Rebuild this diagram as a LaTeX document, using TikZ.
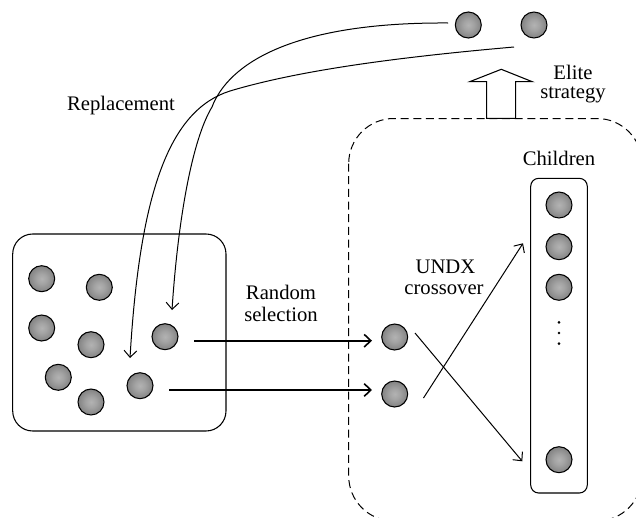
\documentclass[tikz,border=0pt]{standalone}
\usepackage{fontspec}
\setmainfont{Liberation Serif}
\usetikzlibrary{arrows.meta}
\pgfdeclareradialshading{ballshade}{\pgfpoint{0bp}{0bp}}{color(0bp)=(black!30); color(10bp)=(black!36); color(50bp)=(black!70)}
\begin{document}
\begin{tikzpicture}[x=0.75pt,y=-0.75pt,
  ball/.style={circle, draw=black, line width=0.8pt, minimum size=19.5pt, inner sep=0pt, shading=ballshade},
  lbl/.style={font=\fontsize{15.5}{18}\selectfont, inner sep=0pt, anchor=base},
  conn/.style={line width=0.75pt, -{Straight Barb[length=5pt,width=9.5pt]}},
  sel/.style={line width=1.2pt, -{Straight Barb[length=5pt,width=9.5pt]}},
  boxline/.style={line width=0.8pt}]
\useasboundingbox (0,0) rectangle (636,518);

% boxes
\draw[boxline, rounded corners=15pt] (12.7,234) rectangle (226,431);
\draw[line width=0.75pt, dash pattern=on 6pt off 3.5pt, rounded corners=33.75pt] (348.7,118.5) rectangle (642,521);
\draw[boxline, rounded corners=6pt] (530.7,178.3) rectangle (587.3,493);

% elite arrow
\draw[boxline, fill=white] (486.7,118.3) -- (486.7,81.7) -- (469.7,81.7) -- (501.3,69.3) -- (532.3,81.7) -- (515.7,81.7) -- (515.7,118.3) -- cycle;

% balls
\node[ball] (t1) at (468.3,25) {};
\node[ball] (t2) at (534,25) {};
\node[ball] (p1) at (41.7,278.7) {};
\node[ball] (p2) at (99.3,287.3) {};
\node[ball] (p3) at (41.7,328) {};
\node[ball] (p4) at (91,344.7) {};
\node[ball] (p5) at (165,336.7) {};
\node[ball] (p6) at (58.3,377.3) {};
\node[ball] (p7) at (91,402) {};
\node[ball] (p8) at (140,385.7) {};
\node[ball] (m1) at (394.7,337) {};
\node[ball] (m2) at (394.7,394) {};
\node[ball] (c1) at (559,205) {};
\node[ball] (c2) at (559,246.7) {};
\node[ball] (c3) at (559,287.3) {};
\node[ball] (c4) at (559,459.7) {};
\fill (559,322.3) circle (1.1pt) (559,333) circle (1.1pt) (559,343.7) circle (1.1pt);

% replacement curves
\coordinate (s1) at (448,23);
\coordinate (e1) at (172,310);
\draw[conn] (s1) .. controls (290,22) and (228,65) .. (212,107) .. controls (192,140) and (178,220) .. (e1);
\coordinate (s2) at (514,47);
\coordinate (e2) at (130,358);
\draw[conn] (s2) .. controls (400,57) and (300,70) .. (230,91) .. controls (170,110) and (140,190) .. (e2);

% selection arrows
\coordinate (a1) at (194.3,340.7);
\coordinate (b1) at (372,340.7);
\coordinate (a2) at (169.3,390);
\coordinate (b2) at (372,390);
\draw[sel] (a1) -- (b1);
\draw[sel] (a2) -- (b2);

% crossover
\coordinate (x1s) at (415,333);
\coordinate (x1e) at (522.3,461.3);
\coordinate (x2s) at (423.5,398);
\coordinate (x2e) at (523,243.3);
\draw[conn] (x1s) -- (x1e);
\draw[conn] (x2s) -- (x2e);

% labels
\node[lbl] (lrep) at (121,110) {Replacement};
\node[lbl] (lran) at (281,299.7) {Random};
\node[lbl] (lsel) at (281,321.3) {selection};
\node[lbl] (lundx) at (445.5,273) {UNDX};
\node[lbl] (lcross) at (444,294) {crossover};
\node[lbl] (lelite) at (573,79) {Elite};
\node[lbl] (lstrat) at (573,98.5) {strategy};
\node[lbl] (lchild) at (559,165) {Children};
\end{tikzpicture}
\end{document}
